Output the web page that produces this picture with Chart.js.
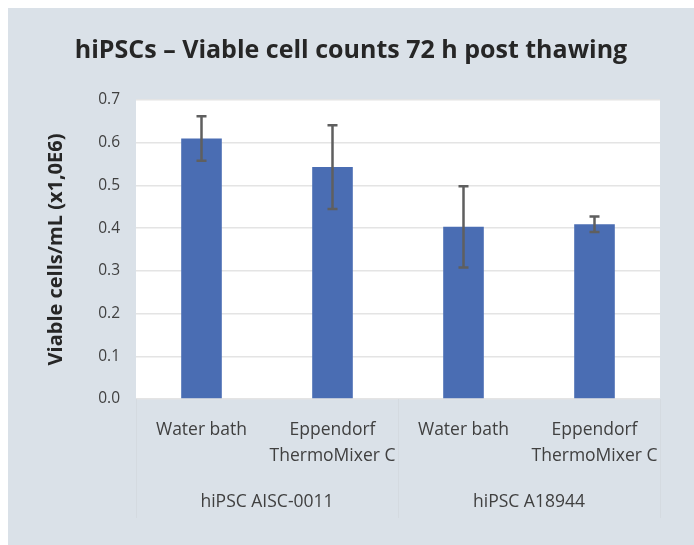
<!DOCTYPE html>
<html>
<head>
<meta charset="utf-8">
<script src="https://cdn.jsdelivr.net/npm/chart.js@4.4.1/dist/chart.umd.min.js"></script>
<style>
  html, body { margin: 0; padding: 0; background: #ffffff; }
</style>
</head>
<body>
<canvas id="myChart" width="694" height="545"></canvas>
<script>
const ctx = document.getElementById('myChart');

// data
const categories = [['Water bath'], ['Eppendorf', 'ThermoMixer C'], ['Water bath'], ['Eppendorf', 'ThermoMixer C']];
const groups = ['hiPSC AISC-0011', 'hiPSC A18944'];
const viableCells = [0.610, 0.543, 0.403, 0.409];
const errors = [0.052, 0.098, 0.095, 0.018];
const yTicks = [0.0, 0.1, 0.2, 0.3, 0.4, 0.5, 0.6, 0.7];

const panelColor = '#dae1e8';
const textColor = '#404040';

/* background panel + white plot area */
const backgroundPlugin = {
    id: 'panel',
    beforeDraw(chart) {
        const c = chart.ctx;
        const a = chart.chartArea;
        c.save();
        c.fillStyle = '#ffffff';
        c.fillRect(0, 0, chart.width, chart.height);
        c.fillStyle = panelColor;
        c.fillRect(8, 8, chart.width - 8, chart.height - 8);
        c.fillStyle = '#ffffff';
        c.fillRect(a.left, a.top, a.right - a.left, a.bottom - a.top);
        c.restore();
    },
    afterDraw(chart) {
        // faint separators between the groups under the axis
        const c = chart.ctx;
        const a = chart.chartArea;
        const xs = [a.left, (a.left + a.right) / 2, a.right];
        c.save();
        c.strokeStyle = '#d4dae0';
        c.lineWidth = 1;
        xs.forEach(function (x) {
            c.beginPath();
            c.moveTo(Math.round(x) + 0.5, a.bottom);
            c.lineTo(Math.round(x) + 0.5, 518);
            c.stroke();
        });
        c.restore();
    }
};

/* error bars */
const errorBarPlugin = {
    id: 'errorBars',
    afterDatasetsDraw(chart) {
        const c = chart.ctx;
        const xScale = chart.scales.x;
        const yScale = chart.scales.y;
        c.save();
        c.strokeStyle = '#5f5f5f';
        c.lineWidth = 2.5;
        for (let i = 0; i < viableCells.length; i++) {
            const x = xScale.getPixelForValue(i);
            const top = yScale.getPixelForValue(viableCells[i] + errors[i]);
            const bottom = yScale.getPixelForValue(viableCells[i] - errors[i]);
            c.beginPath();
            c.moveTo(x, top);
            c.lineTo(x, bottom);
            c.moveTo(x - 5, top);
            c.lineTo(x + 5, top);
            c.moveTo(x - 5, bottom);
            c.lineTo(x + 5, bottom);
            c.stroke();
        }
        c.restore();
    }
};

const myChart = new Chart(ctx, {
    type: 'bar',
    data: {
        labels: categories,
        datasets: [{
            label: 'Viable cells',
            data: viableCells,
            backgroundColor: '#4a6db3',
            borderWidth: 0,
            barPercentage: 0.31,
            categoryPercentage: 1.0
        }]
    },
    plugins: [backgroundPlugin, errorBarPlugin],
    options: {
        responsive: false,
        animation: false,
        devicePixelRatio: 1,
        layout: { padding: { left: 8, right: 0, top: 0, bottom: 0 } },
        plugins: {
            legend: { display: false },
            tooltip: { enabled: false },
            title: {
                display: true,
                text: 'hiPSCs – Viable cell counts 72 h post thawing',
                color: '#262626',
                font: { family: 'Open Sans', size: 25, weight: 'bold' },
                padding: { top: 36, bottom: 34 }
            }
        },
        scales: {
            y: {
                min: 0,
                max: 0.7,
                afterBuildTicks(scale) {
                    scale.ticks = yTicks.map(function (v) { return { value: v }; });
                },
                afterFit(scale) { scale.width = 128; },
                ticks: {
                    color: textColor,
                    font: { family: 'Open Sans', size: 15.5 },
                    padding: 16,
                    callback: function (v) { return Number(v).toFixed(1); }
                },
                grid: { color: '#e4e4e4', lineWidth: 1.5, drawTicks: false },
                border: { display: false },
                title: {
                    display: true,
                    text: 'Viable cells/mL (x1,0E6)',
                    color: '#262626',
                    font: { family: 'Open Sans', size: 20, weight: 'bold' },
                    padding: { top: 36, bottom: 0 }
                }
            },
            // empty right axis, only keeps the plot off the right edge
            yRight: {
                position: 'right',
                display: true,
                afterFit(scale) { scale.width = 34; },
                ticks: { display: false },
                grid: { display: false, drawTicks: false },
                border: { display: false }
            },
            x: {
                position: 'bottom',
                afterFit(scale) { scale.height = 80; },
                ticks: {
                    color: textColor,
                    font: { family: 'Open Sans', size: 17.5, lineHeight: 1.5 },
                    padding: 18,
                    maxRotation: 0,
                    autoSkip: false
                },
                grid: { display: false, drawTicks: false },
                border: { display: false }
            },
            groups: {
                type: 'category',
                position: 'bottom',
                labels: groups,
                offset: true,
                afterFit(scale) { scale.height = 66; },
                ticks: {
                    color: textColor,
                    font: { family: 'Open Sans', size: 17.5 },
                    padding: 13,
                    maxRotation: 0
                },
                grid: { display: false, drawTicks: false },
                border: { display: false }
            }
        }
    }
});
</script>
</body>
</html>
